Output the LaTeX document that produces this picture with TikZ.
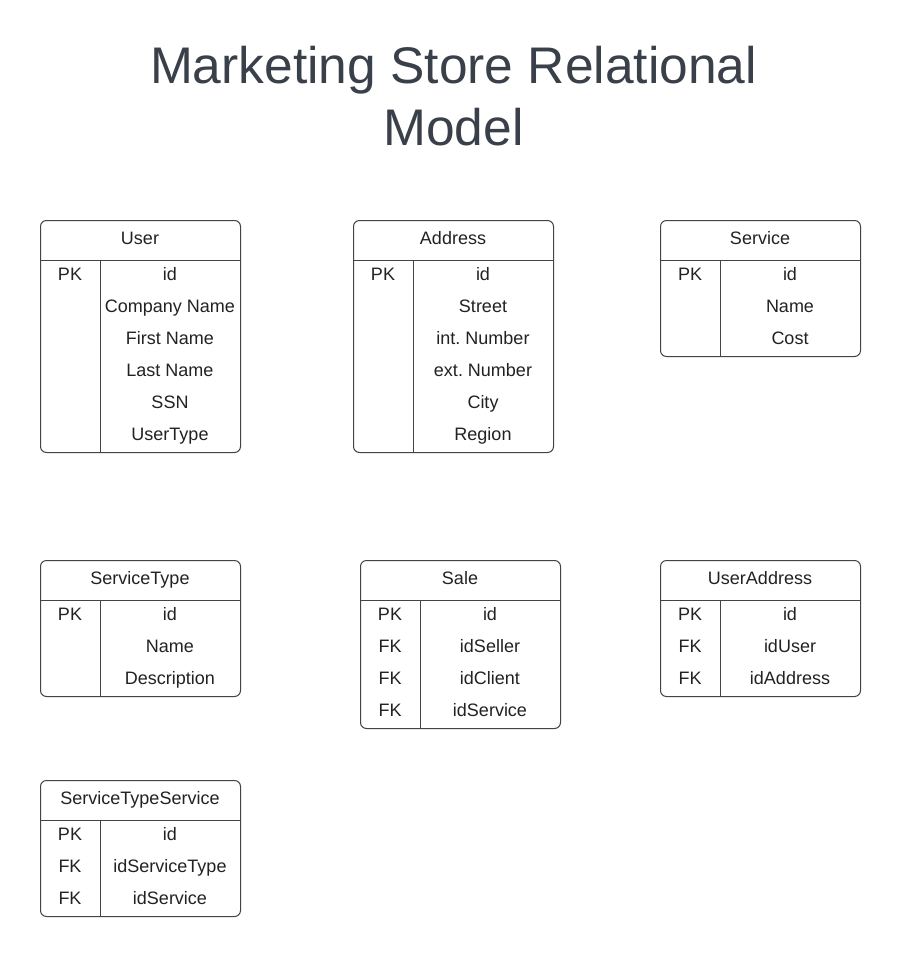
\documentclass[tikz,border=0pt]{standalone}
\usepackage{fontspec}
\setmainfont{Liberation Sans}
\usetikzlibrary{calc}
\frenchspacing
\definecolor{titlecol}{HTML}{3A4049}
\definecolor{linecol}{HTML}{444444}
\definecolor{textcol}{HTML}{222222}
\tikzset{
  tbl/.style={draw=linecol, line width=1pt, rounded corners=6pt, minimum width=200pt, inner sep=0pt, fill=white},
  tline/.style={draw=linecol, line width=1pt},
  cell/.style={inner sep=0pt, text=textcol, font=\fontsize{18}{20}\selectfont},
  ttl/.style={inner sep=0pt, text=titlecol, font=\fontsize{51.5}{62}\selectfont}
}
\newcommand{\ertab}[6]{%
  \node[tbl, minimum height={40+32*#5}, anchor=north west] (#1) at (#2,#3) {};
  \node[cell, anchor=base] (#1-title) at ($(#1.north west)+(100,24)$) {#4};
  \draw[tline] ($(#1.north west)+(0,40)$) -- ($(#1.north east)+(0,40)$);
  \draw[tline] ($(#1.north west)+(60,40)$) -- ($(#1.south west)+(60,0)$);
  \foreach \k/\f [count=\i] in {#6} {
    \node[cell, anchor=base] (#1-k\i) at ($(#1.north west)+(30,28+32*\i)$) {\k};
    \node[cell, anchor=base] (#1-f\i) at ($(#1.north west)+(130,28+32*\i)$) {\f};
  }%
}
\begin{document}
\begin{tikzpicture}[x=1pt,y=-1pt]
\useasboundingbox[fill=white] (0,0) rectangle (900,956);
\node[ttl, anchor=base] (title1) at (453.5,83) {Marketing Store Relational};
\node[ttl, anchor=base] (title2) at (453.5,145) {Model};

\ertab{user}{40}{220}{User}{6}{PK/id,/Company Name,/First Name,/Last Name,/SSN,/UserType}
\ertab{address}{353}{220}{Address}{6}{PK/id,/Street,/int. Number,/ext. Number,/City,/Region}
\ertab{service}{660}{220}{Service}{3}{PK/id,/Name,/Cost}
\ertab{servicetype}{40}{560}{ServiceType}{3}{PK/id,/Name,/Description}
\ertab{sale}{360}{560}{Sale}{4}{PK/id,FK/idSeller,FK/idClient,FK/idService}
\ertab{useraddress}{660}{560}{UserAddress}{3}{PK/id,FK/idUser,FK/idAddress}
\ertab{sts}{40}{780}{ServiceTypeService}{3}{PK/id,FK/idServiceType,FK/idService}
\end{tikzpicture}
\end{document}
